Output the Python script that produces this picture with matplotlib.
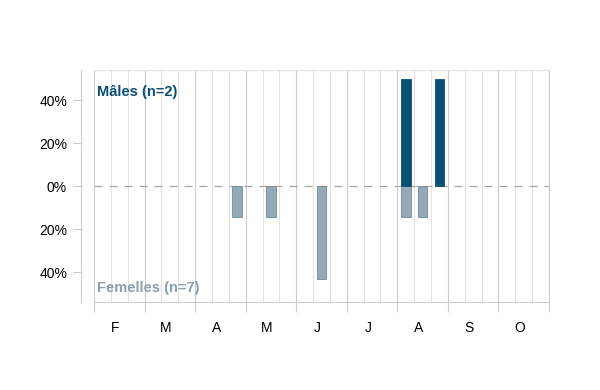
import matplotlib
matplotlib.use("Agg")
import matplotlib.pyplot as plt
import numpy as np

plt.rcParams['font.family'] = ['Liberation Sans', 'DejaVu Sans']

# mois (fevrier -> octobre), chaque mois coupe en 3 decades
months = ['F', 'M', 'A', 'M', 'J', 'J', 'A', 'S', 'O']

# decade index (0 = 1ere decade de fevrier) et proportion d'individus
males_decade = [18, 20]
males_share = [0.5, 0.5]
females_decade = [8, 10, 13, 18, 19]
females_share = [1 / 7, 1 / 7, 3 / 7, 1 / 7, 1 / 7]

male_label = "Mâles (n=2)"
female_label = "Femelles (n=7)"

male_col = "#0b4f72"
female_col = "#95a9b6"
grid_major = "#cccccc"
grid_minor = "#e3e3e3"

n_dec = len(months) * 3

fig = plt.figure(figsize=(6, 3.9), dpi=100)
ax = fig.add_axes([94 / 600, 1 - 301.5 / 390, 455 / 600, 231.5 / 390])

# grille verticale : decades claires, mois plus marques
for d in range(n_dec + 1):
    ax.axvline(d, color=grid_major if d % 3 == 0 else grid_minor, lw=0.8, zorder=0)

ax.axhline(0, color="#a8a8a8", lw=0.9, dashes=(6.5, 5.5), zorder=1)

ax.bar(np.array(males_decade) + 0.5, males_share, width=0.57,
       color=male_col, edgecolor=male_col, lw=0.6, zorder=3)
ax.bar(np.array(females_decade) + 0.5, [-v for v in females_share], width=0.57,
       color=female_col, edgecolor="#728a99", lw=0.6, zorder=2)

ax.set_xlim(0, n_dec)
ax.set_ylim(-0.535, 0.54)

yt = [-0.4, -0.2, 0, 0.2, 0.4]
ax.set_yticks(yt)
ax.set_yticklabels([f"{abs(round(v * 100))}%" for v in yt], fontsize=10)

ax.set_xticks(range(0, n_dec + 1, 3))
ax.set_xticklabels([])
ax.set_xticks([i * 3 + 1.25 for i in range(len(months))], minor=True)
ax.set_xticklabels(months, minor=True, fontsize=10)
ax.tick_params(axis='x', which='major', length=7.5, color=grid_major, width=0.8)
ax.tick_params(axis='x', which='minor', length=0, pad=14)
ax.tick_params(axis='y', length=6, color=grid_major, width=0.8, pad=4)

for s in ['top', 'right', 'bottom']:
    ax.spines[s].set_color(grid_major)
    ax.spines[s].set_linewidth(0.8)
ax.spines['top'].set_color(grid_minor)
ax.spines['left'].set_color(grid_major)
ax.spines['left'].set_linewidth(0.8)
ax.spines['left'].set_position(('outward', 9.4))

ax.text(0.2, 0.44, male_label, color=male_col, fontsize=10.5, fontweight='bold',
        va='center', ha='left')
ax.text(0.2, -0.47, female_label, color="#8a9eac", fontsize=10.5, fontweight='bold',
        va='center', ha='left')

plt.savefig("out.png", dpi=100)
